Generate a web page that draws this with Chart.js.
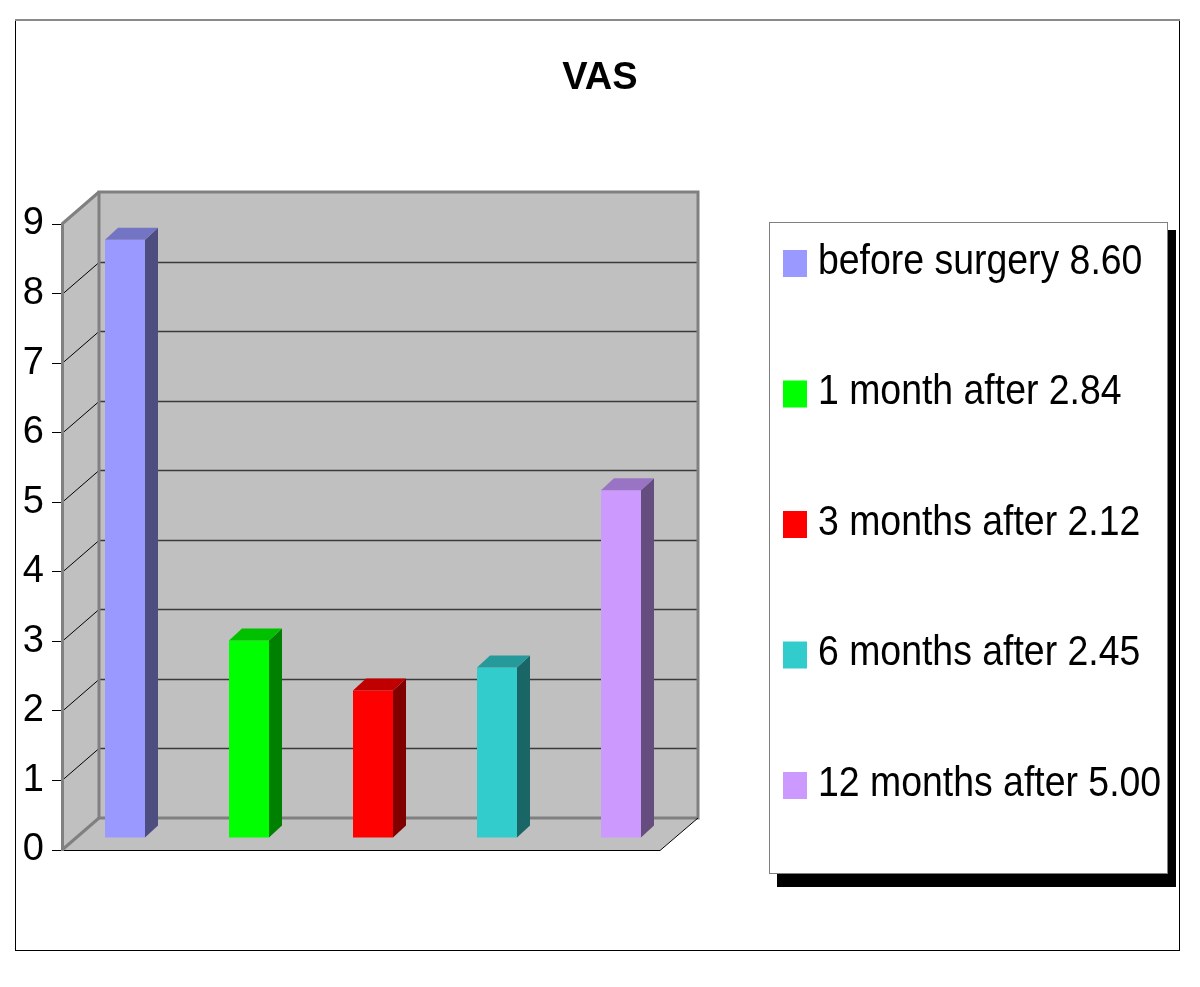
<!DOCTYPE html>
<html><head><meta charset="utf-8">
<script src="https://cdn.jsdelivr.net/npm/chart.js@4"></script>
<style>html,body{margin:0;padding:0;background:#fff}canvas{display:block}</style>
</head><body>
<canvas id="c" width="1200" height="987"></canvas>
<script>
// ---- data ----
const categories = ['before surgery', '1 month after', '3 months after', '6 months after', '12 months after'];
const values = [8.60, 2.84, 2.12, 2.45, 5.00];
const yTicks = [0, 1, 2, 3, 4, 5, 6, 7, 8, 9];
const titleText = 'VAS';
// ---- styles ----
const frontColors = ['#9999FF', '#00FF00', '#FF0000', '#33CCCC', '#CC99FF'];
const topColors = ['#7474C4', '#00C000', '#C00000', '#269A9A', '#9A74C4'];
const sideColors = ['#4D4D80', '#008000', '#800000', '#1A6666', '#664D80'];

const WALL = {dx: 37, dy: -32};
const BAR_SHIFT = {dx: 1, dy: -12};
const BAR_DEPTH = {dx: 13, dy: -12};

function line(ctx, pts) {
  ctx.beginPath();
  ctx.moveTo(pts[0][0], pts[0][1]);
  for (let i = 1; i < pts.length; i++) ctx.lineTo(pts[i][0], pts[i][1]);
}

const wallsPlugin = {
  id: 'walls',
  beforeDraw(chart) {
    const {ctx, chartArea: a, scales: {y}} = chart;
    const L = a.left, R = a.right, T = a.top, B = a.bottom;
    const bL = L + WALL.dx, bR = R + 16, fR = R - 22;
    ctx.save();
    // outer frame
    ctx.strokeStyle = '#000'; ctx.lineWidth = 1;
    ctx.strokeRect(15.5, 20.5, 1164, 930);
    ctx.strokeStyle = '#8a8a8a'; ctx.lineWidth = 2;
    line(ctx, [[15, 20], [1180, 20]]); ctx.stroke();
    // wall fills
    ctx.fillStyle = '#C0C0C0';
    line(ctx, [[L, B], [L, T], [bL, T + WALL.dy], [bL, B + WALL.dy]]); ctx.closePath(); ctx.fill();
    ctx.fillRect(bL, T + WALL.dy, bR - bL, B - T);
    line(ctx, [[L, B], [fR, B], [bR, B + WALL.dy], [bL, B + WALL.dy]]); ctx.closePath(); ctx.fill();
    // gridlines
    yTicks.forEach(v => {
      if (v <= yTicks[0] || v >= yTicks[yTicks.length - 1]) return;
      const yy = Math.round(y.getPixelForValue(v)) + 0.5;
      ctx.strokeStyle = '#000'; ctx.lineWidth = 1;
      line(ctx, [[L, yy], [bL, yy + WALL.dy]]); ctx.stroke();
      ctx.strokeStyle = '#3a3a3a'; ctx.lineWidth = 1.3;
      line(ctx, [[bL, yy + WALL.dy], [bR, yy + WALL.dy]]); ctx.stroke();
    });
    // thick gray edges
    ctx.strokeStyle = '#808080'; ctx.lineWidth = 3;
    line(ctx, [[bL, B + WALL.dy], [bL, T + WALL.dy], [bR, T + WALL.dy], [bR, B + WALL.dy], [bL, B + WALL.dy]]); ctx.stroke();
    line(ctx, [[L, T], [bL, T + WALL.dy]]); ctx.stroke();
    line(ctx, [[L, B], [bL, B + WALL.dy]]); ctx.stroke();
    // floor front edges
    ctx.strokeStyle = '#000'; ctx.lineWidth = 1;
    line(ctx, [[L, B + 0.5], [fR, B + 0.5], [bR, B + WALL.dy]]); ctx.stroke();
    ctx.restore();
  },
  beforeDatasetsDraw(chart) {
    chart.ctx.save();
    chart.ctx.translate(BAR_SHIFT.dx, BAR_SHIFT.dy);
  },
  afterDatasetsDraw(chart) {
    const ctx = chart.ctx;
    const meta = chart.getDatasetMeta(0);
    meta.data.forEach((bar, i) => {
      const x0 = bar.x - bar.width / 2, x1 = bar.x + bar.width / 2;
      const yt = bar.y, yb = bar.base;
      const dx = BAR_DEPTH.dx, dy = BAR_DEPTH.dy;
      ctx.fillStyle = sideColors[i];
      line(ctx, [[x1, yt], [x1 + dx, yt + dy], [x1 + dx, yb + dy], [x1, yb]]); ctx.closePath(); ctx.fill();
      ctx.fillStyle = topColors[i];
      line(ctx, [[x0, yt], [x0 + dx, yt + dy], [x1 + dx, yt + dy], [x1, yt]]); ctx.closePath(); ctx.fill();
    });
    ctx.restore();
  },
  afterDraw(chart) {
    const ctx = chart.ctx;
    ctx.save();
    // legend box with shadow
    ctx.fillStyle = '#000';
    ctx.fillRect(777, 230, 399, 657);
    ctx.fillStyle = '#fff';
    ctx.fillRect(769, 222, 398, 652);
    ctx.strokeStyle = '#808080'; ctx.lineWidth = 1;
    ctx.strokeRect(769.5, 222.5, 398, 651);
    categories.forEach((c, i) => {
      const cy = 263.5 + i * 130.5;
      ctx.fillStyle = frontColors[i];
      ctx.fillRect(783, cy - 13.5, 24, 27);
      ctx.save();
      ctx.translate(818, cy + 10);
      ctx.scale(0.87, 1);
      ctx.fillStyle = '#000';
      ctx.font = '43px "Liberation Sans", Arial, sans-serif';
      ctx.textBaseline = 'alphabetic';
      ctx.fillText(c + ' ' + values[i].toFixed(2), 0, 0);
      ctx.restore();
    });
    ctx.restore();
  }
};

new Chart(document.getElementById('c'), {
  type: 'bar',
  data: {
    labels: categories,
    datasets: [{
      data: values,
      backgroundColor: frontColors,
      borderWidth: 0,
      barPercentage: 40 / 124,
      categoryPercentage: 1,
      clip: false
    }]
  },
  options: {
    responsive: false,
    animation: false,
    events: [],
    layout: {padding: {left: 0, right: 0, top: 0, bottom: 137}},
    plugins: {
      legend: {display: false},
      tooltip: {enabled: false},
      title: {
        display: true,
        text: titleText,
        color: '#000',
        font: {family: 'Liberation Sans', size: 38, weight: 'bold'},
        padding: {top: 56, bottom: 122.4}
      }
    },
    scales: {
      x: {display: false},
      y: {
        position: 'left',
        min: yTicks[0],
        max: yTicks[yTicks.length - 1],
        afterBuildTicks(s) { s.ticks = yTicks.map(v => ({value: v})); },
        afterFit(s) { s.width = 62; },
        ticks: {color: '#000', padding: 8, font: {family: 'Liberation Sans', size: 38}},
        grid: {drawOnChartArea: false, drawTicks: true, tickLength: 10, tickColor: '#000', lineWidth: 1},
        border: {display: true, color: '#808080', width: 3}
      },
      yR: {
        position: 'right',
        display: true,
        afterFit(s) { s.width = 518; },
        ticks: {display: false},
        grid: {display: false},
        border: {display: false}
      }
    }
  },
  plugins: [wallsPlugin]
});
</script>
</body></html>
